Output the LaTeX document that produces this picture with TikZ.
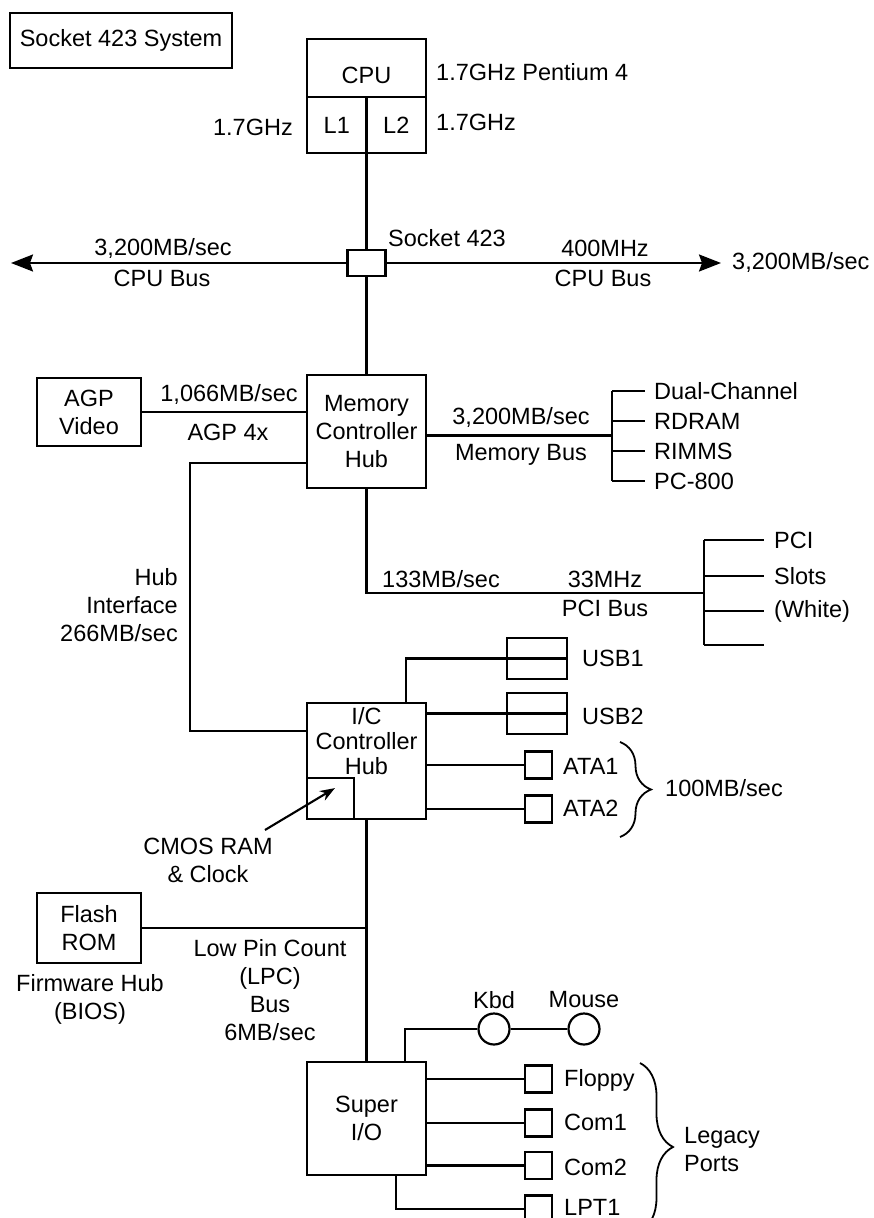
\documentclass[tikz,border=0pt]{standalone}
\usepackage{fontspec}
\setmainfont{Liberation Sans}
\usetikzlibrary{arrows.meta, positioning, decorations.pathreplacing}

\begin{document}
\begin{tikzpicture}[
    x=1pt, y=-1pt,
    font=\fontsize{23.5}{28}\selectfont,
    chip/.style={draw=black, line width=2.6pt, minimum width=119pt,
        minimum height=113pt, align=center, inner sep=0pt},
    card/.style={draw=black, line width=2.6pt, minimum width=104pt,
        minimum height=68pt, align=center, inner sep=0pt},
    cache/.style={draw=black, line width=2.4pt, minimum width=59.5pt,
        minimum height=56pt, inner sep=0pt},
    port/.style={draw=black, line width=2.2pt, minimum width=27pt,
        minimum height=27pt, inner sep=0pt},
    usbport/.style={draw=black, line width=2.2pt, minimum width=60pt,
        minimum height=41pt, inner sep=0pt},
    jack/.style={draw=black, line width=2.2pt, circle, minimum size=31pt, inner sep=0pt},
    lbl/.style={inner sep=0pt, align=center},
    wire/.style={line width=2.1pt},
    bus/.style={wire, -{Stealth[length=22pt, width=17pt, inset=3pt]}},
    ptr/.style={wire, -{Stealth[length=15pt, width=11pt]}},
    curly/.style={line width=1.8pt, decorate, decoration={brace, amplitude=#1}}
]
\path[use as bounding box] (0,0) rectangle (873,1218);
\clip (0,0) rectangle (873,1218);

% Title
\node[draw=black, line width=2.6pt, minimum width=222pt, minimum height=55pt,
    inner sep=0pt] (title) at (121,40.5) {Socket 423 System};

% CPU and socket
\node[chip, minimum height=114pt] (cpu) at (366.5,96) {};
\node[lbl] (cpuname) at (366.5,75) {CPU};
\node[cache] (l1) at (336.75,125) {L1};
\node[cache] (l2) at (396.25,125) {L2};
\node[lbl, anchor=west] (cpuspeed) at (436,72) {1.7GHz Pentium 4};
\node[lbl, anchor=east] (l1speed) at (293,127) {1.7GHz};
\node[lbl, anchor=west] (l2speed) at (436,122) {1.7GHz};

\node[draw=black, line width=2.4pt, minimum width=38pt, minimum height=26pt,
    inner sep=0pt] (sock) at (366.5,263) {};
\coordinate (busL) at (11,263);
\coordinate (busR) at (721,263);
\node[lbl, anchor=west] (socklbl) at (388,238) {Socket 423};
\node[lbl] (busLrate) at (163,248) {3,200MB/sec};
\node[lbl] (busLname) at (162,278) {CPU Bus};
\node[lbl] (busRclk) at (605,248) {400MHz};
\node[lbl] (busRname) at (603,278) {CPU Bus};
\node[lbl, anchor=west] (busRrate) at (732,262) {3,200MB/sec};

% Memory controller hub
\node[chip] (mch) at (366.5,431.5) {Memory\\Controller\\Hub};
\node[card] (agp) at (89,412) {AGP\\Video};
\node[lbl] (agprate) at (229,394) {1,066MB/sec};
\node[lbl] (agpname) at (228,432) {AGP 4x};
\node[lbl] (memrate) at (521,417) {3,200MB/sec};
\node[lbl] (memname) at (521,455) {Memory Bus};
\coordinate (memtop) at (612,391);
\coordinate (membot) at (612,481);

% PCI
\coordinate (pcijoin) at (704,593);
\coordinate (pcitop) at (704,540);
\coordinate (pcibot) at (704,645);
\coordinate (slot4) at (764,645);
\node[lbl] (pcirate) at (441,579) {133MB/sec};
\node[lbl] (pciclk) at (605,579) {33MHz};
\node[lbl] (pciname) at (605,608) {PCI Bus};

% Hub interface
\coordinate (hubbend) at (190,463);
\node[lbl, anchor=east, align=right] (hublbl) at (178,605) {Hub\\Interface\\266MB/sec};

% I/O controller hub
\node[chip, minimum height=116pt] (ich) at (366.5,761) {};
\node[lbl, font=\fontsize{23.5}{25}\selectfont] (ichname) at (366.5,741) {I/C\\Controller\\Hub};
\node[draw=black, line width=2.4pt, minimum width=47pt, minimum height=41pt,
    inner sep=0pt, anchor=south west] (cmos) at (ich.south west) {};
\node[lbl] (cmoslbl) at (208,860) {CMOS RAM\\\& Clock};
\coordinate (cmostail) at (265,830);

\node[usbport] (usb1) at (537,658.5) {};
\node[usbport] (usb2) at (537,713.5) {};
\node[port] (ata1) at (538.5,765) {};
\node[port] (ata2) at (538.5,809) {};
\node[lbl, anchor=west] (usb1lbl) at (582,658) {USB1};
\node[lbl, anchor=west] (usb2lbl) at (582,716) {USB2};
\node[lbl, anchor=west] (ata1lbl) at (563,766) {ATA1};
\node[lbl, anchor=west] (ata2lbl) at (563,808) {ATA2};
\node[lbl, anchor=west] (atarate) at (665,788) {100MB/sec};

% Firmware hub
\node[card, minimum height=70pt] (flash) at (89,928) {Flash\\ROM};
\node[lbl] (fwhlbl) at (90,999) {Firmware Hub\\(BIOS)};
\node[lbl] (lpclbl) at (270,990) {Low Pin Count\\(LPC)\\Bus\\6MB/sec};

% Super I/O
\node[chip] (sio) at (366.5,1118.5) {Super\\I/O};
\node[jack] (kbd) at (494,1029) {};
\node[jack] (mouse) at (584,1029) {};
\node[lbl] (kbdlbl) at (494,1000) {Kbd};
\node[lbl] (mouselbl) at (584,1000) {Mouse};
\node[port] (floppy) at (538.5,1079) {};
\node[port] (com1) at (538.5,1123) {};
\node[port] (com2) at (538.5,1165.5) {};
\node[port] (lpt1) at (538.5,1209) {};
\node[lbl, anchor=west] (floppylbl) at (564,1080) {Floppy};
\node[lbl, anchor=west] (com1lbl) at (564,1122) {Com1};
\node[lbl, anchor=west] (com2lbl) at (564,1167) {Com2};
\node[lbl, anchor=west] (lpt1lbl) at (564,1207) {LPT1};
\node[lbl, anchor=west, align=left] (legacylbl) at (684,1150) {Legacy\\Ports};

% CPU bus
\draw[wire] (cpu.south) -- (sock.north);
\draw[wire] (sock.south) -- (mch.north);
\draw[bus] (sock.west) -- (busL);
\draw[bus] (sock.east) -- (busR);

% MCH links
\draw[wire] (agp.east) -- (agp.east -| mch.west);
\draw[wire] ([yshift=-4pt]mch.east) -- ([yshift=-4pt]mch.east -| memtop);
\draw[wire] (memtop) -- (membot);
\foreach \y/\p/\t in {391/dimm1/Dual-Channel, 421/dimm2/RDRAM, 451/dimm3/RIMMS, 481/dimm4/PC-800} {
    \node[lbl, anchor=west] (\p) at (654,\y) {\t};
    \draw[wire] (memtop |- \p.west) -- ([xshift=-9pt]\p.west);
}
\draw[wire] (mch.south) |- (pcijoin);
\draw[wire] (pcitop) -- (pcibot);
\foreach \y/\p/\t in {540/slot1/PCI, 576/slot2/Slots, 611/slot3/(White)} {
    \node[lbl, anchor=west] (\p) at (774,\y) {\t};
    \draw[wire] (pcitop |- \p.west) -- ([xshift=-10pt]\p.west);
}
\draw[wire] (pcibot) -- (slot4);
\draw[wire] ([yshift=-31.5pt]mch.west) -- (hubbend) |- ([yshift=30pt]ich.west);

% ICH links
\draw[ptr] (cmostail) -- ([xshift=4.5pt, yshift=10.5pt]cmos.center);
\draw[wire] ([xshift=39.5pt]ich.north) |- (usb1.east);
\draw[wire] (ich.east |- usb2) -- (usb2.east);
\draw[wire] (ich.east |- ata1) -- (ata1.west);
\draw[wire] (ich.east |- ata2) -- (ata2.west);
\draw[curly=31pt] (620,742) -- (620,837);
\draw[wire] (ich.south) -- (sio.north);
\draw[wire] (flash.east) -- (flash.east -| ich.south);

% Super I/O links
\draw[wire] ([xshift=38.5pt]sio.north) |- (kbd.west);
\draw[wire] (kbd.east) -- (mouse.west);
\draw[wire] (sio.east |- floppy) -- (floppy.west);
\draw[wire] (sio.east |- com1) -- (com1.west);
\draw[wire] (sio.east |- com2) -- (com2.west);
\draw[wire] ([xshift=29.5pt]sio.south) |- (lpt1.west);
\draw[curly=33pt] (640,1063) -- (640,1231);

\end{tikzpicture}
\end{document}
